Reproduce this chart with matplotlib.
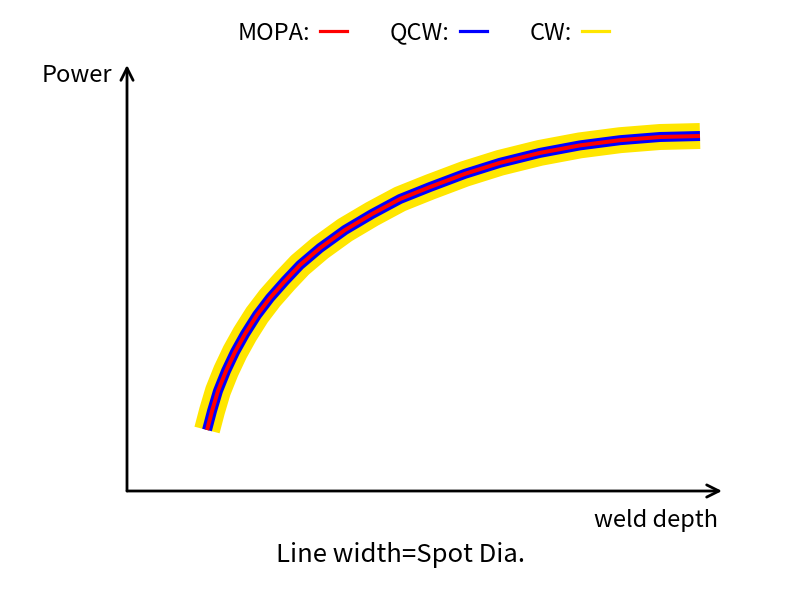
import matplotlib
matplotlib.use('Agg')
import matplotlib.pyplot as plt
from matplotlib.lines import Line2D

plt.rcParams['font.family'] = ['Noto Sans CJK SC', 'DejaVu Sans']

# curve (weld depth vs power, arbitrary units)
depth = [1.345, 1.429, 1.529, 1.664, 1.815, 1.983, 2.185, 2.403, 2.655, 2.908, 3.244,
         3.664, 4.118, 4.588, 5.092, 5.681, 6.269, 6.941, 7.613, 8.286, 8.958, 9.630]
power = [1.432, 1.878, 2.347, 2.817, 3.263, 3.685, 4.131, 4.531, 4.930, 5.305, 5.704,
         6.127, 6.502, 6.854, 7.136, 7.446, 7.704, 7.937, 8.113, 8.235, 8.310, 8.333]

lasers = ['MOPA:', 'QCW:', 'CW:']
colors = ['#ff0000', '#0000ff', '#ffe600']
widths = [2.9, 7.2, 18.7]

fig = plt.figure(figsize=(8, 6), dpi=100)
ax = fig.add_axes([127/800, 1 - 491/600, 595/800, 426/600])
ax.set_xlim(0, 10)
ax.set_ylim(0, 10)

# widest first so thinner lines sit on top
for name, c, w in reversed(list(zip(lasers, colors, widths))):
    ax.plot(depth, power, color=c, lw=w, solid_capstyle='butt', solid_joinstyle='round')

for s in ax.spines.values():
    s.set_visible(False)
ax.set_xticks([])
ax.set_yticks([])

# axis arrows
ax.annotate('', xy=(1.0, 0), xytext=(0, 0), xycoords='axes fraction',
            arrowprops=dict(arrowstyle='->', lw=2, color='black', mutation_scale=22,
                            shrinkA=0, shrinkB=0), annotation_clip=False)
ax.annotate('', xy=(0, 1.0), xytext=(0, 0), xycoords='axes fraction',
            arrowprops=dict(arrowstyle='->', lw=2, color='black', mutation_scale=22,
                            shrinkA=0, shrinkB=0), annotation_clip=False)

fig.text(112/800, 1 - 76/600, 'Power', ha='right', va='center', fontsize=17)
fig.text(718/800, 1 - 520/600, 'weld depth', ha='right', va='center', fontsize=17)
fig.text(400/800, 1 - 555/600, 'Line width=Spot Dia.', ha='center', va='center', fontsize=18.5)

handles = [Line2D([], [], color=c, lw=2.3) for c in colors]
fig.legend(handles, lasers, loc='center', bbox_to_anchor=(0.529, 1 - 33/600),
           ncol=3, frameon=False, markerfirst=False, fontsize=17,
           handlelength=1.15, handletextpad=0.42, columnspacing=1.8)

fig.savefig('out.png', dpi=100)
